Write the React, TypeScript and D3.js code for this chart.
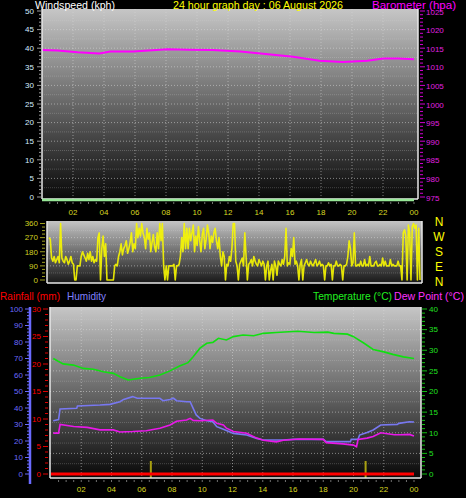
import React from "react";
import * as d3 from "d3";

const W = 466;
const H = 498;
const FONT = "'Liberation Sans', Arial, sans-serif";

// ---------- DATA ----------
const hourTicks = [2, 4, 6, 8, 10, 12, 14, 16, 18, 20, 22, 24];
const hourLabels = ["02", "04", "06", "08", "10", "12", "14", "16", "18", "20", "22", "00"];

const windTicks = [0, 5, 10, 15, 20, 25, 30, 35, 40, 45, 50];
const baroTicks = [975, 980, 985, 990, 995, 1000, 1005, 1010, 1015, 1020, 1025];

const windSpeedHours = [0, 24];
const windSpeedValues = [0, 0];

const baroHours = [0, 1, 2.3, 3.7, 4.4, 5.9, 8.1, 9.5, 11, 12.8, 14.1, 16.2, 17.9, 19.4, 21, 22, 23, 24];
const baroValues = [1014.5, 1014.4, 1013.9, 1013.6, 1014.1, 1014.1, 1014.7, 1014.6, 1014.5, 1014.1, 1013.6, 1012.7, 1011.6, 1011.3, 1011.6, 1012.2, 1012.2, 1012.0];

// wind direction, one reading every 5 minutes (12 per hour)
const dirTicks = [0, 90, 180, 270, 360];
const compassLabels = ["N", "W", "S", "E", "N"];
const windDirValues = [
  270, 260, 140, 120, 150, 110, 130, 150, 110, 360, 140, 120,
  110, 150, 130, 100, 120, 150, 110, 100, 0, 0, 90, 90,
  90, 150, 180, 160, 140, 120, 170, 130, 180, 120, 150, 110,
  130, 120, 270, 300, 0, 200, 280, 150, 230, 0, 0, 0,
  0, 0, 0, 90, 100, 90, 150, 180, 230, 160, 200, 220,
  250, 170, 200, 240, 300, 180, 230, 200, 360, 270, 330, 280,
  360, 300, 270, 200, 330, 260, 300, 180, 240, 290, 210, 180,
  300, 200, 360, 250, 360, 90, 0, 90, 0, 90, 90, 90,
  90, 100, 0, 90, 90, 100, 150, 270, 180, 360, 200, 330,
  200, 330, 250, 300, 350, 180, 280, 220, 340, 250, 180, 290,
  330, 200, 260, 350, 300, 200, 280, 240, 300, 330, 250, 200,
  270, 150, 90, 180, 150, 0, 100, 90, 150, 120, 200, 360,
  360, 120, 90, 0, 100, 120, 140, 90, 300, 150, 0, 100,
  110, 130, 90, 150, 120, 100, 90, 130, 110, 90, 120, 100,
  0, 90, 120, 0, 60, 100, 0, 120, 90, 30, 120, 100,
  90, 130, 100, 150, 330, 90, 110, 100, 200, 150, 270, 100,
  120, 90, 0, 100, 130, 0, 90, 110, 130, 100, 90, 120,
  100, 90, 110, 130, 90, 100, 120, 90, 100, 90, 0, 90,
  90, 110, 90, 100, 0, 90, 90, 120, 90, 90, 100, 90,
  0, 90, 90, 100, 150, 250, 200, 90, 110, 300, 90, 90,
  100, 90, 120, 90, 90, 130, 90, 100, 90, 150, 90, 90,
  90, 110, 120, 90, 90, 100, 90, 140, 90, 120, 90, 90,
  90, 130, 90, 100, 90, 90, 90, 120, 90, 90, 0, 300,
  320, 280, 0, 350, 300, 0, 340, 360, 330, 350, 0, 330,
  0,
];

const humTicks = [0, 10, 20, 30, 40, 50, 60, 70, 80, 90, 100];
const rainTicks = [0, 5, 10, 15, 20, 25, 30];
const tempTicks = [0, 5, 10, 15, 20, 25, 30, 35, 40];

const tempHours = [0.15, 0.8, 1.48, 2.14, 2.8, 3.46, 4.12, 4.56, 5.1, 5.9, 6.5, 7.2, 7.87, 8.5, 9.06, 9.4, 9.85, 10.3, 10.7, 11.07, 11.6, 12.06, 12.7, 13.4, 14.05, 14.9, 16.3, 17.4, 18.3, 18.7, 19.6, 20.0, 20.7, 21.3, 22.0, 22.6, 23.3, 24.0];
const tempValues = [28.0, 26.7, 26.4, 25.6, 25.4, 24.8, 24.4, 23.6, 22.8, 23.2, 23.4, 24.0, 25.0, 26.2, 27.0, 28.4, 30.5, 31.7, 31.9, 32.9, 32.5, 33.3, 33.7, 33.5, 34.1, 34.3, 34.6, 34.3, 34.4, 34.1, 33.9, 33.3, 31.7, 30.2, 29.6, 29.0, 28.4, 28.0];

const humHours = [0.15, 0.5, 0.6, 1.7, 1.75, 3.24, 3.9, 4.56, 4.8, 5.4, 5.7, 7.2, 7.4, 7.87, 8.1, 8.3, 8.97, 9.2, 9.4, 9.6, 9.85, 10.3, 10.7, 10.96, 11.4, 12.06, 12.94, 13.6, 14.04, 15.36, 16.0, 18.0, 18.2, 19.8, 19.85, 20.3, 20.4, 20.9, 21.3, 21.8, 22.9, 23.0, 23.7, 24.0];
const humValues = [32.3, 33, 39.4, 39.8, 41.2, 41.8, 42.2, 43.8, 45.2, 46.9, 45.9, 45.9, 44.4, 45.2, 45.9, 44.4, 43.8, 43.8, 39.8, 35.8, 33.7, 32.3, 31.7, 28.7, 27.1, 24.6, 23.6, 21.6, 20.6, 20.6, 21, 21, 19.6, 19.6, 21, 21, 23.6, 25.1, 26.7, 29.7, 30.1, 30.7, 31.7, 31.5];

const dewHours = [0.15, 0.5, 0.6, 1.5, 2.4, 3.24, 4.12, 4.56, 5.4, 6.3, 7.2, 7.87, 8.3, 8.97, 9.2, 9.4, 9.85, 10.7, 10.96, 11.4, 11.6, 12.06, 12.94, 13.6, 14.04, 14.9, 15.36, 16.4, 18.0, 18.2, 19.3, 20.0, 20.2, 20.3, 20.9, 21.3, 21.8, 22.7, 23.1, 23.7, 24.0];
const dewValues = [9.9, 9.9, 12.0, 11.5, 11.3, 10.7, 10.7, 10.2, 10.3, 10.5, 11.1, 11.9, 12.8, 13.1, 13.5, 13.0, 12.9, 13.1, 12.3, 11.9, 11.1, 10.3, 9.9, 8.7, 8.2, 7.8, 8.2, 8.5, 8.4, 7.6, 7.3, 7.0, 6.6, 8.4, 8.7, 9.1, 10.0, 9.5, 9.5, 9.6, 9.2];

const rainHours = [0, 24];
const rainValues = [0, 0];
const markerHours = [6.6, 20.8];

// ---------- LAYOUT ----------
const xTop = d3.scaleLinear().domain([0, 24]).range([42, 414]);
const yWind = d3.scaleLinear().domain([0, 50]).range([197, 11]);
const yBaro = d3.scaleLinear().domain([975, 1025]).range([197, 11]);

const xDir = d3.scaleLinear().domain([0, 24]).range([49, 420]);
const yDir = d3.scaleLinear().domain([0, 360]).range([280, 223.5]);

const xBot = d3.scaleLinear().domain([0, 24]).range([51, 414]);
const yHum = d3.scaleLinear().domain([0, 100]).range([474, 309]);
const yRain = d3.scaleLinear().domain([0, 30]).range([474, 309]);
const yTemp = d3.scaleLinear().domain([0, 40]).range([474, 309]);

const topRect = { x0: 42, x1: 418, y0: 9, y1: 199 };
const dirRect = { x0: 47, x1: 422, y0: 221, y1: 283 };
const botRect = { x0: 50, x1: 421, y0: 307, y1: 478 };

function pts(hours: number[], vals: number[]): [number, number][] {
  return hours.map((h, i) => [h, vals[i]]);
}

function range(a: number, b: number, s: number) {
  return d3.range(a, b + s / 2, s);
}

const Panel = ({ r, id, top, bottom }: any) => (
  <g>
    <defs>
      <linearGradient id={id} x1="0" y1="0" x2="0" y2="1">
        <stop offset="0%" stopColor={top} />
        <stop offset="100%" stopColor={bottom} />
      </linearGradient>
    </defs>
    <rect x={r.x0} y={r.y0} width={r.x1 - r.x0} height={r.y1 - r.y0} fill={`url(#${id})`} />
  </g>
);

const Border = ({ r }: any) => (
  <g stroke="#e8e8e8" strokeWidth={1.5} fill="none">
    <line x1={r.x0} x2={r.x0} y1={r.y0} y2={r.y1} />
    <line x1={r.x1} x2={r.x1} y1={r.y0} y2={r.y1} />
    <line x1={r.x0} x2={r.x1} y1={r.y1} y2={r.y1} />
  </g>
);

export default function App() {
  const lineTop = (ys: any) =>
    d3.line<[number, number]>().x((d) => xTop(d[0])).y((d) => ys(d[1]));
  const lineBot = (ys: any) =>
    d3.line<[number, number]>().x((d) => xBot(d[0])).y((d) => ys(d[1]));
  const dirLine = d3
    .line<number>()
    .x((_, i) => xDir(i / 12))
    .y((d) => yDir(d));

  const gridStyle = { stroke: "#d8d8d8", strokeOpacity: 0.55, strokeDasharray: "1,2", strokeWidth: 1 };
  const subGridStyle = { stroke: "#d8d8d8", strokeOpacity: 0.25, strokeDasharray: "1,1", strokeWidth: 1 };

  return (
    <svg
      width={W}
      height={H}
      style={{ position: "fixed", left: 0, top: 0, background: "#000", display: "block" }}
      fontFamily={FONT}
    >
      <rect x={0} y={0} width={W} height={H} fill="#000" />

      {/* ===== TOP PANEL ===== */}
      <Panel r={topRect} id="gTop" top="#c6c6c6" bottom="#080808" />
      {range(2.5, 47.5, 5).map((v) => (
        <line key={"ts" + v} x1={topRect.x0} x2={topRect.x1} y1={yWind(v)} y2={yWind(v)} {...subGridStyle} />
      ))}
      {windTicks.slice(1, -1).map((v) => (
        <line key={"tg" + v} x1={topRect.x0} x2={topRect.x1} y1={yWind(v)} y2={yWind(v)} {...gridStyle} />
      ))}
      {hourTicks.slice(0, -1).map((h) => (
        <line key={"tv" + h} x1={xTop(h)} x2={xTop(h)} y1={topRect.y0} y2={topRect.y1} {...gridStyle} />
      ))}
      <path
        d={lineTop(yBaro)(pts(baroHours, baroValues)) || ""}
        fill="none"
        stroke="#ff00ff"
        strokeWidth={2}
      />
      <Border r={topRect} />
      <path
        d={lineTop(yWind)(pts(windSpeedHours, windSpeedValues)) || ""}
        transform="translate(0,3)"
        fill="none"
        stroke="#98e898"
        strokeWidth={2.5}
      />
      {/* left windspeed axis */}
      {range(0, 50, 1).map((v) => (
        <line key={"wm" + v} x1={v % 5 === 0 ? 37 : 39} x2={41} y1={yWind(v)} y2={yWind(v)} stroke="#9a9a9a" strokeWidth={1} />
      ))}
      {windTicks.map((v) => (
        <text key={"wl" + v} x={34} y={yWind(v)} dy="0.35em" textAnchor="end" fontSize={8} fill="#d4ecff">
          {v}
        </text>
      ))}
      {/* right barometer axis */}
      {range(975, 1025, 1).map((v) => (
        <line key={"bm" + v} x1={420} x2={v % 5 === 0 ? 425 : 423} y1={yBaro(v)} y2={yBaro(v)} stroke="#d000d0" strokeWidth={1} />
      ))}
      {baroTicks.map((v) => (
        <text key={"bl" + v} x={426} y={yBaro(v) + 0.8} dy="0.35em" fontSize={8} fill="#e020e0">
          {v}
        </text>
      ))}
      {/* x axis top */}
      {range(0.5, 24, 0.5).map((h) => (
        <line key={"xm" + h} x1={xTop(h)} x2={xTop(h)} y1={202} y2={204} stroke="#707070" strokeWidth={1} />
      ))}
      {hourTicks.map((h, i) => (
        <text key={"xl" + h} x={xTop(h)} y={212} dy="0.35em" textAnchor="middle" fontSize={8} fill="#d8d820">
          {hourLabels[i]}
        </text>
      ))}
      <text x={35} y={9} fontSize={10.5} fill="#ffffff" textLength={80} lengthAdjust="spacingAndGlyphs">Windspeed (kph)</text>
      <text x={173} y={9} fontSize={10.5} fill="#ffff00" textLength={170} lengthAdjust="spacingAndGlyphs">24 hour graph day : 06 August 2026</text>
      <text x={372} y={9} fontSize={10.5} fill="#ff00ff" textLength={84} lengthAdjust="spacingAndGlyphs">Barometer (hpa)</text>

      {/* ===== WIND DIRECTION PANEL ===== */}
      <Panel r={dirRect} id="gDir" top="#c4c4c4" bottom="#181818" />
      {range(45, 315, 90).map((v) => (
        <line key={"ds" + v} x1={dirRect.x0} x2={dirRect.x1} y1={yDir(v)} y2={yDir(v)} {...subGridStyle} />
      ))}
      {dirTicks.slice(1, -1).map((v) => (
        <line key={"dg" + v} x1={dirRect.x0} x2={dirRect.x1} y1={yDir(v)} y2={yDir(v)} {...gridStyle} />
      ))}
      <path
        d={dirLine(windDirValues) || ""}
        fill="none"
        stroke="#f8f800"
        strokeWidth={1.6}
        strokeOpacity={0.9}
        strokeLinejoin="round"
      />
      <Border r={dirRect} />
      {range(0, 360, 22.5).map((v) => (
        <line key={"dm" + v} x1={v % 90 === 0 ? 40 : 42} x2={45} y1={yDir(v)} y2={yDir(v)} stroke="#a0a020" strokeWidth={1} />
      ))}
      {dirTicks.map((v) => (
        <text key={"dl" + v} x={38} y={yDir(v)} dy="0.35em" textAnchor="end" fontSize={8} fill="#d0d020">
          {v}
        </text>
      ))}
      {compassLabels.map((c, i) => (
        <text
          key={"cl" + i}
          x={439}
          y={d3.scaleLinear().domain([0, 4]).range([222, 282])(i)}
          dy="0.36em"
          textAnchor="middle"
          fontSize={12}
          fill="#ffff00"
        >
          {c}
        </text>
      ))}

      {/* ===== BOTTOM PANEL ===== */}
      <Panel r={botRect} id="gBot" top="#c6c6c6" bottom="#080808" />
      {range(2.5, 37.5, 5).map((v) => (
        <line key={"bs" + v} x1={botRect.x0} x2={botRect.x1} y1={yTemp(v)} y2={yTemp(v)} {...subGridStyle} />
      ))}
      {tempTicks.slice(1, -1).map((v) => (
        <line key={"bg" + v} x1={botRect.x0} x2={botRect.x1} y1={yTemp(v)} y2={yTemp(v)} {...gridStyle} />
      ))}
      {hourTicks.slice(0, -1).map((h) => (
        <line key={"bv" + h} x1={xBot(h)} x2={xBot(h)} y1={botRect.y0} y2={botRect.y1} {...gridStyle} />
      ))}
      {markerHours.map((h) => (
        <rect key={"mk" + h} x={xBot(h) - 1} y={botRect.y1 - 17} width={2} height={17} fill="#a8a010" />
      ))}
      <path d={lineBot(yHum)(pts(humHours, humValues)) || ""} fill="none" stroke="#7878f0" strokeWidth={1.6} />
      <path d={lineBot(yTemp)(pts(dewHours, dewValues)) || ""} fill="none" stroke="#e818e8" strokeWidth={1.6} />
      <path d={lineBot(yTemp)(pts(tempHours, tempValues)) || ""} fill="none" stroke="#10e010" strokeWidth={1.6} />
      <path d={lineBot(yRain)(pts(rainHours, rainValues)) || ""} fill="none" stroke="#ff0000" strokeWidth={3} />
      <Border r={botRect} />

      {/* humidity axis */}
      <line x1={30} x2={30} y1={yHum(100) - 2} y2={yHum(0) + 10} stroke="#6a6aff" strokeWidth={2.5} />
      {range(0, 100, 2).map((v) => (
        <line key={"hm" + v} x1={v % 10 === 0 ? 25 : 27} x2={30} y1={yHum(v)} y2={yHum(v)} stroke="#6a6aff" strokeWidth={1} />
      ))}
      {humTicks.map((v) => (
        <text key={"hl" + v} x={23} y={yHum(v)} dy="0.35em" textAnchor="end" fontSize={8} fill="#6a6aff">
          {v}
        </text>
      ))}
      {/* rain axis */}
      {range(0, 30, 1).map((v) => (
        <line key={"rm" + v} x1={v % 5 === 0 ? 43 : 45} x2={48} y1={yRain(v)} y2={yRain(v)} stroke="#e00000" strokeWidth={1} />
      ))}
      {rainTicks.map((v) => (
        <text key={"rl" + v} x={41} y={yRain(v)} dy="0.35em" textAnchor="end" fontSize={8} fill="#ff0000">
          {v}
        </text>
      ))}
      {/* temperature axis */}
      {range(0, 40, 1).map((v) => (
        <line key={"tm" + v} x1={422} x2={v % 5 === 0 ? 427 : 425} y1={yTemp(v)} y2={yTemp(v)} stroke="#10c010" strokeWidth={1} />
      ))}
      {tempTicks.map((v) => (
        <text key={"tl" + v} x={429} y={yTemp(v)} dy="0.35em" fontSize={8} fill="#20e020">
          {v}
        </text>
      ))}
      {/* x axis bottom */}
      {range(0.5, 24, 0.5).map((h) => (
        <line key={"bxm" + h} x1={xBot(h)} x2={xBot(h)} y1={480} y2={482} stroke="#707070" strokeWidth={1} />
      ))}
      {hourTicks.map((h, i) => (
        <text key={"bxl" + h} x={xBot(h)} y={489} dy="0.35em" textAnchor="middle" fontSize={8} fill="#d8d820">
          {hourLabels[i]}
        </text>
      ))}
      <text x={0} y={300} fontSize={11} fill="#ff0000" textLength={60} lengthAdjust="spacingAndGlyphs">Rainfall (mm)</text>
      <text x={67} y={300} fontSize={11} fill="#8080ff" textLength={39} lengthAdjust="spacingAndGlyphs">Humidity</text>
      <text x={313} y={300} fontSize={11} fill="#20f020" textLength={79} lengthAdjust="spacingAndGlyphs">Temperature (°C)</text>
      <text x={394} y={300} fontSize={11} fill="#ff30ff" textLength={70} lengthAdjust="spacingAndGlyphs">Dew Point (°C)</text>
    </svg>
  );
}
